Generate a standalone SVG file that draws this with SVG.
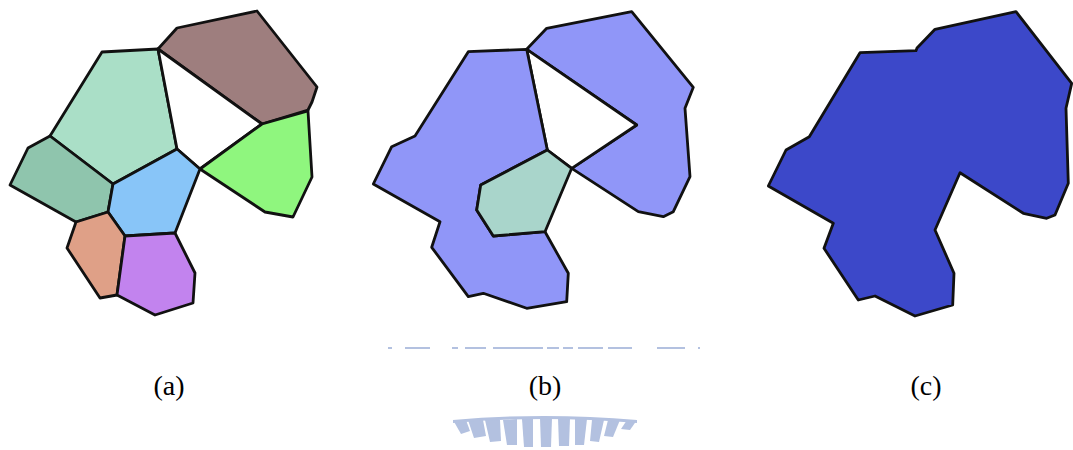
<svg xmlns="http://www.w3.org/2000/svg" width="1073" height="450" viewBox="0 0 1073 450">
<style>
.c{stroke:#111;stroke-width:2.8;stroke-linejoin:round}
.lbl{font-family:"Liberation Serif",serif;font-size:28px;fill:#000;text-anchor:middle}
.wm{fill:#b3c1e0}
</style>
<rect width="1073" height="450" fill="#fff"/>
<g id="panel-a">
<polygon id="a-brown" class="c" fill="#9e7e7e" points="158,49 177,28 257,11 317,87 312,102 308,110 262,124"/>
<polygon id="a-mint" class="c" fill="#aadfc7" points="102,52 158,49 177,149 113,184 50,136"/>
<polygon id="a-hole" class="c" fill="#fff" points="158,49 262,124 200,169 177,149"/>
<polygon id="a-green" class="c" fill="#8ff67e" points="262,124 308,111 312,177 293,217 265,212 200,169"/>
<polygon id="a-teal" class="c" fill="#8fc5ad" points="50,136 28,148 10,185 76,222 108,212 113,184"/>
<polygon id="a-blue" class="c" fill="#88c5f8" points="113,184 177,149 200,169 175,233 125,236 108,212"/>
<polygon id="a-orange" class="c" fill="#dfa087" points="108,212 125,236 117,295 100,298 67,248 76,222"/>
<polygon id="a-purple" class="c" fill="#c283ee" points="125,236 175,233 195,273 193,303 155,315 117,295"/>
</g>
<g id="panel-b">
<polygon id="b-right" class="c" fill="#9096f8" points="526.7,49.3 546.7,28.3 631.7,11.7 693.3,87.3 685,108.3 690,176.7 673.3,211.7 663.3,216.7 638.3,211.7 571.7,168.3 636.7,125"/>
<polygon id="b-hole" class="c" fill="#fff" points="526.7,49.3 636.7,125 571.7,168.3 547.3,150"/>
<polygon id="b-left" class="c" fill="#9096f8" points="468.3,51.7 526.7,49.3 547.3,150 480.7,185 476.7,210 493.3,236 545,231.7 568.3,273.3 566.7,301.7 526.7,308.3 483.3,293.3 468.3,296.7 431.7,247.3 440,221.7 373.3,184 391.7,146.7 415,136"/>
<polygon id="b-mint" class="c" fill="#a9d5cb" points="547.3,150 571.7,168.3 545,231.7 493.3,236 476.7,210 480.7,185"/>
</g>
<g id="panel-c">
<polygon id="c-union" class="c" fill="#3c48c9" points="860,52.7 916,50.7 917,48 935,29.3 1016,11.7 1071.7,83.3 1066,108.3 1068.3,183.3 1055,215 1046.7,218.3 1023.3,213.3 960,172.7 935,230 954,273.3 952.7,305 915,316 875,296 858.3,300 824,248.3 833.3,223.3 768.3,186 786,150 809.3,136.7"/>
</g>
<g id="labels">
<text class="lbl" x="169" y="395">(a)</text>
<text class="lbl" x="545" y="395">(b)</text>
<text class="lbl" x="926" y="395">(c)</text>
</g>
<g id="watermark" fill="none" stroke="#b3c1e0" stroke-width="2">
<path d="M388,348H392M405,348H430M452,348H458M465,348H486M493,348H543M547,348H559M563,348H573M578,348H603M608,348H632M657,348H685M698,348H700"/>
<g stroke="none" class="wm">
<polygon points="453,420 466,420 470,431 461,434"/>
<polygon points="468,420 483,420 486,436 474,438"/>
<polygon points="485,420 500,420 501,441 490,442"/>
<polygon points="503,420 517,419 517,445 507,445"/>
<polygon points="522,419 533,419 533,447 524,447"/>
<polygon points="540,418 552,418 551,447 541,447"/>
<polygon points="558,418 570,418 569,446 559,446"/>
<polygon points="575,419 587,419 584,445 575,445"/>
<polygon points="592,420 604,420 599,442 590,441"/>
<polygon points="608,420 620,420 613,437 604,436"/>
<polygon points="627,420 637,420 630,430 621,429"/>
<path d="M453,420 Q543,412 637,420 L637,423 Q543,415 453,423Z"/>
</g>
</g>
</svg>
